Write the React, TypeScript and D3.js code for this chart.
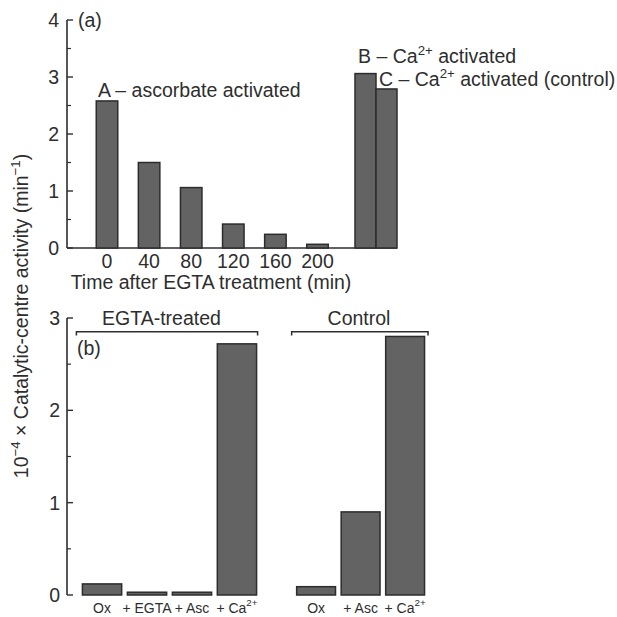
import React from "react";
import * as d3 from "d3";

// ---- data (panel a) ----
const timeLabels = ["0", "40", "80", "120", "160", "200"];
const timeMinutes = [0, 40, 80, 120, 160, 200];
const timeValues = [2.58, 1.5, 1.06, 0.42, 0.24, 0.065];
const caKeys = ["B", "C"];
const caValues = [3.06, 2.79];
const aTicks = [0, 1, 2, 3, 4];
const aMinor = [0.5, 1.5, 2.5, 3.5];

// ---- data (panel b) ----
const egtaCats = ["Ox", "+ EGTA", "+ Asc", "+ Ca2+"];
const egtaValues = [0.12, 0.03, 0.03, 2.72];
const controlCats = ["Ox", "+ Asc", "+ Ca2+"];
const controlValues = [0.09, 0.9, 2.8];
const bTicks = [0, 1, 2, 3];
const bMinor = [0.5, 1.5, 2.5];

const W = 617;
const H = 617;
const FONT = "'Liberation Sans', Arial, Helvetica, sans-serif";
const INK = "#2e2e2e";
const BAR_FILL = "#636363";
const BAR_STROKE = "#2c2c2c";

function CatLabel({ text, x, y, size }: { text: string; x: number; y: number; size: number }) {
  if (text.endsWith("2+")) {
    const base = text.slice(0, -2);
    return (
      <text x={x} y={y} textAnchor="middle" fontSize={size} fill={INK} fontFamily={FONT}>
        {base}
        <tspan dy={-size * 0.5} fontSize={size * 0.7}>2+</tspan>
      </text>
    );
  }
  return (
    <text x={x} y={y} textAnchor="middle" fontSize={size} fill={INK} fontFamily={FONT}>
      {text}
    </text>
  );
}

export default function App() {
  const axisX = 67;

  // panel a scales
  const yA = d3.scaleLinear().domain([0, 4]).range([248, 20]);
  const xA = d3.scaleLinear().domain([0, 200]).range([107, 317.5]);
  const barWA = 21.5;
  const xCa = d3.scaleBand<string>().domain(caKeys).range([355, 397]).padding(0);

  // panel b scales
  const yB = d3.scaleLinear().domain([0, 3]).range([595, 318]);
  const xE = d3.scaleBand<string>().domain(egtaCats).range([76.7, 262.3]).padding(0.127);
  const xC = d3.scaleBand<string>().domain(controlCats).range([291, 430.2]).padding(0.127);

  const fs = 19.5;

  return (
    <svg width={W} height={H} style={{ position: "absolute", left: 0, top: 0, background: "#fff" }}>
      <rect x={0} y={0} width={W} height={H} fill="#fff" />

      {/* ---------- panel a ---------- */}
      <line x1={axisX} x2={axisX} y1={yA(4)} y2={yA(0)} stroke={INK} strokeWidth={1.6} />
      <line x1={axisX} x2={397} y1={yA(0)} y2={yA(0)} stroke={INK} strokeWidth={1.6} />
      {aTicks.map((t) => (
        <g key={"at" + t}>
          <line x1={axisX} x2={axisX + 6} y1={yA(t)} y2={yA(t)} stroke={INK} strokeWidth={1.4} />
          <text x={59} y={yA(t) + 7} textAnchor="end" fontSize={fs} fill={INK} fontFamily={FONT}>
            {t}
          </text>
        </g>
      ))}
      {aMinor.map((t) => (
        <line key={"am" + t} x1={axisX} x2={axisX + 4} y1={yA(t)} y2={yA(t)} stroke={INK} strokeWidth={1.2} />
      ))}
      <text x={78} y={27} fontSize={fs} fill={INK} fontFamily={FONT}>(a)</text>

      {timeValues.map((v, i) => (
        <rect
          key={"ta" + i}
          x={xA(timeMinutes[i]) - barWA / 2}
          y={yA(v)}
          width={barWA}
          height={yA(0) - yA(v)}
          fill={BAR_FILL}
          stroke={BAR_STROKE}
          strokeWidth={1.5}
        />
      ))}
      {timeLabels.map((l, i) => (
        <text key={"tl" + i} x={xA(timeMinutes[i])} y={268} textAnchor="middle" fontSize={fs} fill={INK} fontFamily={FONT}>
          {l}
        </text>
      ))}
      {caValues.map((v, i) => (
        <rect
          key={"ca" + i}
          x={xCa(caKeys[i])!}
          y={yA(v)}
          width={xCa.bandwidth()}
          height={yA(0) - yA(v)}
          fill={BAR_FILL}
          stroke={BAR_STROKE}
          strokeWidth={1.5}
        />
      ))}
      <text x={211} y={289} textAnchor="middle" fontSize={fs} fill={INK} fontFamily={FONT}>
        Time after EGTA treatment (min)
      </text>
      <text x={98} y={97} fontSize={fs} fill={INK} fontFamily={FONT}>A – ascorbate activated</text>
      <text x={358} y={63} fontSize={fs} fill={INK} fontFamily={FONT}>
        B – Ca<tspan dy={-8} fontSize={fs * 0.68}>2+</tspan>
        <tspan dy={8}> activated</tspan>
      </text>
      <text x={379} y={86} fontSize={fs} fill={INK} fontFamily={FONT}>
        C – Ca<tspan dy={-8} fontSize={fs * 0.68}>2+</tspan>
        <tspan dy={8}> activated (control)</tspan>
      </text>

      {/* ---------- y-axis title ---------- */}
      <text
        transform="translate(28,316) rotate(-90)"
        textAnchor="middle"
        fontSize={fs}
        fill={INK}
        fontFamily={FONT}
      >
        10<tspan dy={-8} fontSize={fs * 0.68}>−4</tspan>
        <tspan dy={8}> × Catalytic-centre activity (min</tspan>
        <tspan dy={-8} fontSize={fs * 0.68}>−1</tspan>
        <tspan dy={8}>)</tspan>
      </text>

      {/* ---------- panel b ---------- */}
      <line x1={axisX} x2={axisX} y1={yB(3)} y2={yB(0)} stroke={INK} strokeWidth={1.6} />
      {bTicks.map((t) => (
        <g key={"bt" + t}>
          <line x1={axisX} x2={axisX + 6} y1={yB(t)} y2={yB(t)} stroke={INK} strokeWidth={1.4} />
          <text x={60} y={yB(t) + 7} textAnchor="end" fontSize={fs} fill={INK} fontFamily={FONT}>
            {t}
          </text>
        </g>
      ))}
      {bMinor.map((t) => (
        <line key={"bm" + t} x1={axisX} x2={axisX + 4} y1={yB(t)} y2={yB(t)} stroke={INK} strokeWidth={1.2} />
      ))}
      <text x={77} y={355} fontSize={fs} fill={INK} fontFamily={FONT}>(b)</text>

      {/* brackets */}
      <path
        d={`M${xE(egtaCats[0])! - 6},335.5 V331.7 H${xE(egtaCats[3])! + xE.bandwidth() + 1} V335.5`}
        fill="none"
        stroke={INK}
        strokeWidth={1.5}
      />
      <text x={161.5} y={325} textAnchor="middle" fontSize={fs} fill={INK} fontFamily={FONT}>EGTA-treated</text>
      <path
        d={`M${xC(controlCats[0])! - 5},335.5 V331.7 H${xC(controlCats[2])! + xC.bandwidth() + 3.5} V335.5`}
        fill="none"
        stroke={INK}
        strokeWidth={1.5}
      />
      <text x={359} y={325} textAnchor="middle" fontSize={fs} fill={INK} fontFamily={FONT}>Control</text>

      {egtaValues.map((v, i) => (
        <rect
          key={"eb" + i}
          x={xE(egtaCats[i])!}
          y={yB(v)}
          width={xE.bandwidth()}
          height={yB(0) - yB(v)}
          fill={BAR_FILL}
          stroke={BAR_STROKE}
          strokeWidth={1.5}
        />
      ))}
      {controlValues.map((v, i) => (
        <rect
          key={"cb" + i}
          x={xC(controlCats[i])!}
          y={yB(v)}
          width={xC.bandwidth()}
          height={yB(0) - yB(v)}
          fill={BAR_FILL}
          stroke={BAR_STROKE}
          strokeWidth={1.5}
        />
      ))}
      {egtaCats.map((c) => (
        <CatLabel key={"el" + c} text={c} x={xE(c)! + xE.bandwidth() / 2} y={613} size={14} />
      ))}
      {controlCats.map((c) => (
        <CatLabel key={"cl" + c} text={c} x={xC(c)! + xC.bandwidth() / 2} y={613} size={14} />
      ))}
    </svg>
  );
}
